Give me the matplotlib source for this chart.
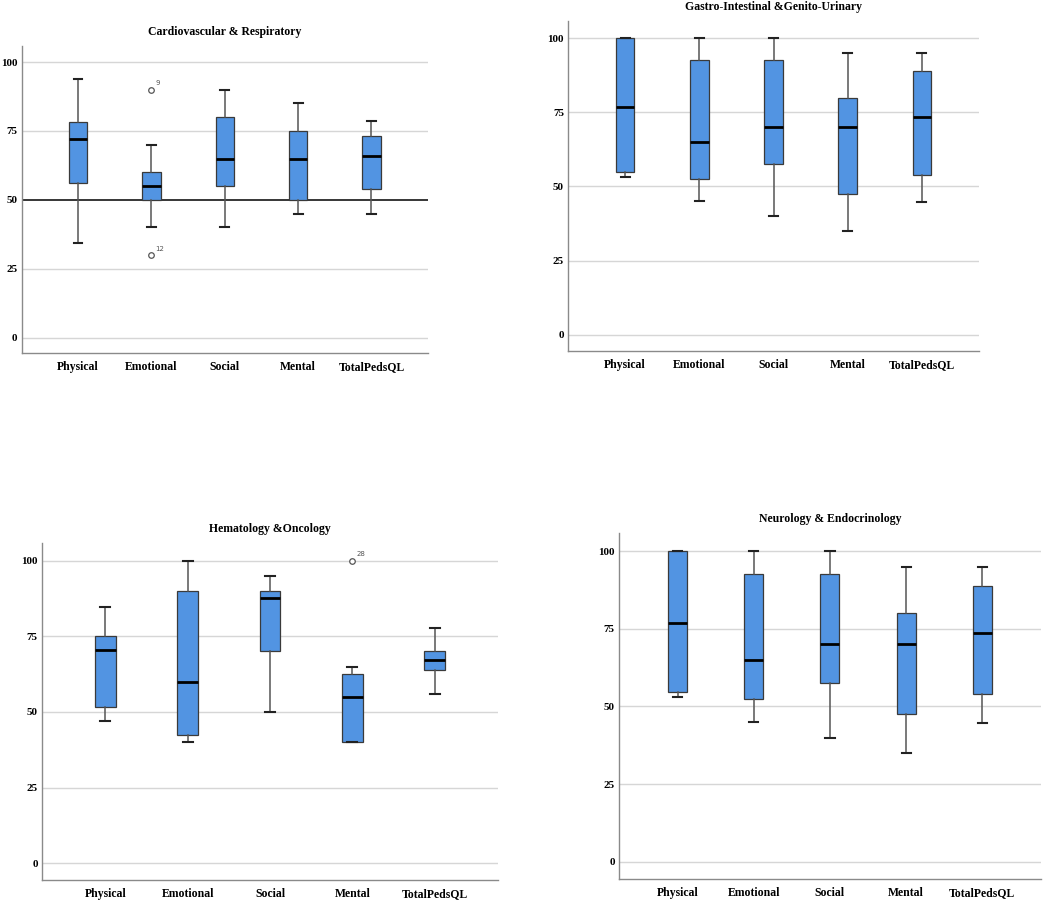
import numpy as np
import matplotlib
matplotlib.use('Agg')
import matplotlib.pyplot as plt

# Categorias y valores (min, Q1, mediana, Q3, max)
categories = ['Physical', 'Emotional', 'Social', 'Mental', 'TotalPedsQL']
yticks = [0, 25, 50, 75, 100]

cardio_title = 'Cardiovascular & Respiratory'
cardio_low = [34.5, 40, 40, 45, 45]
cardio_q1 = [56.3, 50, 55, 50, 54]
cardio_med = [72, 55, 65, 65, 66]
cardio_q3 = [78.3, 60, 80, 75, 73]
cardio_high = [94, 70, 90, 85, 78.5]
cardio_out_x = [2, 2]
cardio_out_y = [90, 30]
cardio_out_lbl = ['9', '12']

gastro_title = 'Gastro-Intestinal &Genito-Urinary'
gastro_low = [53.1, 45, 40, 35, 44.6]
gastro_q1 = [54.8, 52.5, 57.5, 47.5, 53.9]
gastro_med = [76.7, 65, 70, 70, 73.5]
gastro_q3 = [100, 92.5, 92.5, 80, 88.9]
gastro_high = [100, 100, 100, 95, 95]

hemato_title = 'Hematology &Oncology'
hemato_low = [47, 40, 50, 40, 56]
hemato_q1 = [51.7, 42.5, 70, 40, 64]
hemato_med = [70.3, 60, 87.6, 55, 67.3]
hemato_q3 = [75, 90, 90, 62.5, 70.2]
hemato_high = [84.5, 100, 95, 65, 77.7]
hemato_out_x = [4]
hemato_out_y = [100]
hemato_out_lbl = ['28']

neuro_title = 'Neurology & Endocrinology'
neuro_low = [53.1, 45, 40, 35, 44.6]
neuro_q1 = [54.8, 52.5, 57.5, 47.5, 53.9]
neuro_med = [76.7, 65, 70, 70, 73.5]
neuro_q3 = [100, 92.5, 92.5, 80, 88.9]
neuro_high = [100, 100, 100, 95, 95]

box_color = '#5294E2'
serif = ['Liberation Serif', 'DejaVu Serif']

fig = plt.figure(figsize=(10.5, 9.06), dpi=100)


def panel(rect, title, low, q1, med, q3, high, out_x=None, out_y=None, out_lbl=None, refline=False):
    ax = fig.add_axes(rect)
    stats = []
    for i in range(len(categories)):
        stats.append({'whislo': low[i], 'q1': q1[i], 'med': med[i], 'q3': q3[i],
                      'whishi': high[i], 'fliers': []})
    pos = np.arange(1, len(categories) + 1)
    ax.bxp(stats, positions=pos, widths=0.25, patch_artist=True, showfliers=False,
           capwidths=0.12,
           boxprops=dict(facecolor=box_color, edgecolor='#3a3a3a', linewidth=0.9),
           medianprops=dict(color='black', linewidth=2),
           whiskerprops=dict(color='#555555', linewidth=1.1),
           capprops=dict(color='#222222', linewidth=1.5), zorder=3)
    if out_x is not None:
        ax.scatter(out_x, out_y, s=16, facecolors='white', edgecolors='#555555',
                   linewidths=0.9, zorder=4)
        for x, y, t in zip(out_x, out_y, out_lbl):
            ax.annotate(t, (x, y), xytext=(3, 3), textcoords='offset points',
                        fontsize=5, color='#555555')
    for v in yticks:
        if refline and v == 50:
            ax.axhline(v, color='black', linewidth=1.1, zorder=2)
        else:
            ax.axhline(v, color='#d6d6d6', linewidth=1, zorder=1)
    ax.set_xlim(0.23, len(categories) + 0.77)
    ax.set_ylim(-5.5, 105.8)
    ax.set_xticks(pos)
    ax.set_xticklabels(categories, family=serif, fontweight='bold', fontsize=8.5)
    ax.set_yticks(yticks)
    ax.set_yticklabels([str(v) for v in yticks], family=serif, fontweight='bold', fontsize=8)
    ax.tick_params(length=0, pad=3)
    ax.tick_params(axis='x', pad=6)
    for s in ['top', 'right']:
        ax.spines[s].set_visible(False)
    for s in ['left', 'bottom']:
        ax.spines[s].set_color('#8a8a8a')
        ax.spines[s].set_linewidth(1)
    ax.set_title(title, family=serif, fontweight='bold', fontsize=8.5, pad=8)
    return ax


panel([0.0205, 0.6104, 0.3871, 0.3388], cardio_title, cardio_low, cardio_q1, cardio_med,
      cardio_q3, cardio_high, cardio_out_x, cardio_out_y, cardio_out_lbl, refline=True)
panel([0.541, 0.6126, 0.3914, 0.3642], gastro_title, gastro_low, gastro_q1, gastro_med,
      gastro_q3, gastro_high)
panel([0.04, 0.0287, 0.4343, 0.372], hemato_title, hemato_low, hemato_q1, hemato_med,
      hemato_q3, hemato_high, hemato_out_x, hemato_out_y, hemato_out_lbl)
panel([0.5895, 0.0298, 0.4019, 0.3819], neuro_title, neuro_low, neuro_q1, neuro_med,
      neuro_q3, neuro_high)

fig.savefig('out.png', dpi=100)
